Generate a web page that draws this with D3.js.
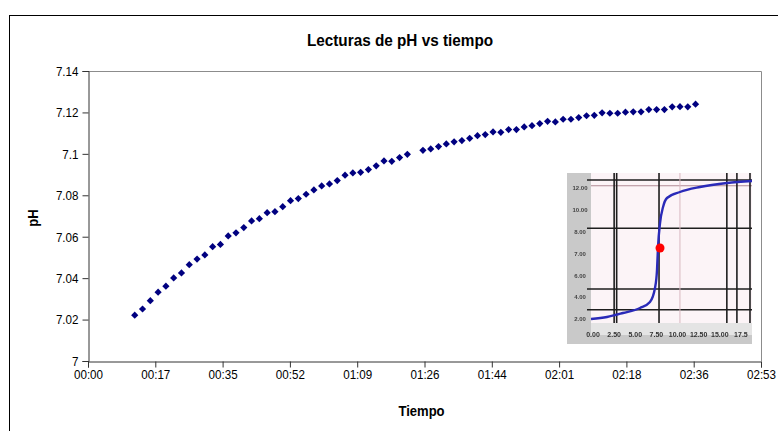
<!DOCTYPE html>
<html>
<head>
<meta charset="utf-8">
<script src="https://cdn.jsdelivr.net/npm/d3@7"></script>
<style>
    body { margin: 0; background: #fff; }
    text { font-family: "Liberation Sans", Arial, sans-serif; }
</style>
</head>
<body>
<svg id="chart" width="778" height="431"></svg>
<script>
// lecturas cada 2 minutos (falta la de 01:24)
var tiempos = [12, 14, 16, 18, 20, 22, 24, 26, 28, 30, 32, 34, 36, 38, 40, 42, 44, 46,
    48, 50, 52, 54, 56, 58, 60, 62, 64, 66, 68, 70, 72, 74, 76, 78, 80, 82,
    86, 88, 90, 92, 94, 96, 98, 100, 102, 104, 106, 108, 110, 112, 114, 116, 118, 120,
    122, 124, 126, 128, 130, 132, 134, 136, 138, 140, 142, 144, 146, 148, 150, 152, 154, 156];
var lecturasPH = [7.0221, 7.0251, 7.0291, 7.0332, 7.0361, 7.0401, 7.0425, 7.0465, 7.0492, 7.0512,
    7.0552, 7.0563, 7.0604, 7.0619, 7.0644, 7.0676, 7.0687, 7.0716, 7.0721, 7.0745,
    7.0774, 7.0784, 7.0805, 7.0826, 7.0845, 7.0855, 7.0871, 7.0897, 7.0908, 7.0911,
    7.0924, 7.0942, 7.0966, 7.0964, 7.0982, 7.0998,
    7.1017, 7.1024, 7.1035, 7.1048, 7.1058, 7.1064, 7.1075, 7.1088, 7.1093, 7.1106,
    7.1104, 7.1117, 7.1117, 7.1130, 7.1136, 7.1146, 7.1157, 7.1154, 7.1167, 7.1167,
    7.1175, 7.1184, 7.1186, 7.1198, 7.1196, 7.1196, 7.1201, 7.1203, 7.1203, 7.1214,
    7.1214, 7.1214, 7.1227, 7.1228, 7.1227, 7.1240];

var xTickLabels = ["00:00", "00:17", "00:35", "00:52", "01:09", "01:26", "01:44", "02:01", "02:18", "02:36", "02:53"];
var yTicks = [7, 7.02, 7.04, 7.06, 7.08, 7.1, 7.12, 7.14];
var yTickLabels = ["7", "7.02", "7.04", "7.06", "7.08", "7.1", "7.12", "7.14"];

// imagen pegada (curva de titulacion), en unidades propias
var curvaX = [0, 1.59, 3.18, 4.87, 5.86, 6.36, 6.56, 6.66, 6.86, 7.16, 7.55, 8.84, 10.83, 13.52, 16];
var curvaY = [0.32, 0.48, 0.8, 1.2, 1.68, 2.8, 4.24, 6.08, 8.0, 9.28, 10.0, 10.48, 10.88, 11.2, 11.36];
var puntoRojo = [6.86, 6.0];
var rejillaH = [1.06, 2.72, 7.58, 11.44];
var rejillaV = [2.3, 2.55, 6.76, 13.5, 14.5, 15.8];
var insetXLabels = ["0.00", "2.50", "5.00", "7.50", "10.00", "12.50", "15.00", "17.5"];
var insetYLabels = ["2.00", "4.00", "6.00", "7.00", "8.00", "10.00", "12.00"];

var svg = d3.select("#chart");
var mLeft = 88, mRight = 761, mTop = 71, mBottom = 361;

// texto estrecho, como el de la imagen original
function estrechar(sel, factor) {
    sel.each(function () {
        var w = this.getComputedTextLength();
        d3.select(this)
            .attr("textLength", w * factor)
            .attr("lengthAdjust", "spacingAndGlyphs");
    });
}

// borde del grafico
svg.append("rect")
    .attr("x", 9.5).attr("y", 15.5)
    .attr("width", 1000).attr("height", 1000)
    .attr("fill", "none")
    .attr("stroke", "#000")
    .attr("stroke-width", 1);

var x = d3.scaleLinear().domain([0, 172.8]).range([mLeft, mRight]);
var y = d3.scaleLinear().domain([7, 7.14]).range([mBottom, mTop]);

// marco del area de trazado
svg.append("path")
    .attr("d", "M" + mLeft + "," + (mTop + 0.5) + "H" + (mRight + 0.5) + "V" + mBottom)
    .attr("fill", "none")
    .attr("stroke", "#8c8c8c");

var xAxis = d3.axisBottom(x)
    .tickValues(d3.range(0, 11).map(function (i) { return i * 17.28; }))
    .tickSize(6)
    .tickPadding(2)
    .tickFormat(function (d, i) { return xTickLabels[i]; });
var gx = svg.append("g")
    .attr("transform", "translate(0," + (mBottom + 0.5) + ")")
    .call(xAxis);

var yAxis = d3.axisLeft(y)
    .tickValues(yTicks)
    .tickSize(6)
    .tickPadding(4)
    .tickFormat(function (d, i) { return yTickLabels[i]; });
var gy = svg.append("g")
    .attr("transform", "translate(" + (mLeft + 0.5) + ",0)")
    .call(yAxis);

[gx, gy].forEach(function (g) {
    g.select(".domain").attr("stroke", "#333");
    g.selectAll(".tick line").attr("stroke", "#333");
    g.selectAll(".tick text")
        .attr("fill", "#000")
        .style("font-size", "13.5px")
        .call(estrechar, 0.86);
});

// titulo y ejes
svg.append("text")
    .attr("x", 400).attr("y", 46)
    .attr("text-anchor", "middle")
    .style("font-size", "17px")
    .style("font-weight", "bold")
    .text("Lecturas de pH vs tiempo")
    .call(estrechar, 0.9);
svg.append("text")
    .attr("x", (mLeft + mRight) / 2 - 3).attr("y", 416)
    .attr("text-anchor", "middle")
    .style("font-size", "14.5px")
    .style("font-weight", "bold")
    .text("Tiempo")
    .call(estrechar, 0.9);
svg.append("text")
    .attr("transform", "translate(38," + ((mTop + mBottom) / 2 + 2) + ") rotate(-90)")
    .attr("text-anchor", "middle")
    .style("font-size", "14.5px")
    .style("font-weight", "bold")
    .text("pH")
    .call(estrechar, 0.9);

// imagen insertada
var inset = svg.append("g").attr("id", "inset");
var ix = d3.scaleLinear().domain([0, 16]).range([591, 752]);
var iy = d3.scaleLinear().domain([0, 12]).range([323, 173]);

var defs = svg.append("defs");
defs.append("filter").attr("id", "blur")
    .append("feGaussianBlur").attr("stdDeviation", 0.6);

inset.append("rect")
    .attr("x", 567).attr("y", 173).attr("width", 185).attr("height", 171)
    .attr("fill", "#c9c9c9");
inset.append("rect")
    .attr("x", ix(0)).attr("y", iy(12)).attr("width", ix(16) - ix(0)).attr("height", iy(0) - iy(12))
    .attr("fill", "#fcf4f7");
inset.append("rect")
    .attr("x", ix(0)).attr("y", iy(0)).attr("width", ix(16) - ix(0)).attr("height", 12)
    .attr("fill", "#e4e4e4");

inset.selectAll("line.gh")
    .data(rejillaH)
    .enter()
    .append("line")
    .attr("class", "gh")
    .attr("x1", ix(0) - 4).attr("x2", ix(16))
    .attr("y1", function (d) { return iy(d); })
    .attr("y2", function (d) { return iy(d); })
    .attr("stroke", "#1e1e1e")
    .attr("stroke-width", 1.6);
inset.append("line")
    .attr("x1", ix(0)).attr("x2", ix(16))
    .attr("y1", iy(10.98)).attr("y2", iy(10.98))
    .attr("stroke", "#b08a94")
    .attr("stroke-width", 1);
inset.selectAll("line.gv")
    .data(rejillaV)
    .enter()
    .append("line")
    .attr("class", "gv")
    .attr("y1", iy(12)).attr("y2", iy(0))
    .attr("x1", function (d) { return ix(d); })
    .attr("x2", function (d) { return ix(d); })
    .attr("stroke", "#1e1e1e")
    .attr("stroke-width", 1.6);
inset.append("line")
    .attr("y1", iy(12)).attr("y2", iy(0))
    .attr("x1", ix(8.84)).attr("x2", ix(8.84))
    .attr("stroke", "#d8b8c0")
    .attr("stroke-width", 1);

inset.append("path")
    .datum(curvaX.map(function (d, i) { return [d, curvaY[i]]; }))
    .attr("d", d3.line()
        .x(function (d) { return ix(d[0]); })
        .y(function (d) { return iy(d[1]); })
        .curve(d3.curveMonotoneX))
    .attr("fill", "none")
    .attr("stroke", "#2a2ab8")
    .attr("stroke-width", 2.4);

inset.selectAll("text.xl")
    .data(insetXLabels)
    .enter()
    .append("text")
    .attr("class", "xl")
    .attr("x", function (d, i) { return ix(i * 2.1) + 2; })
    .attr("y", 337)
    .attr("text-anchor", "middle")
    .attr("filter", "url(#blur)")
    .style("font-size", "7px")
    .style("font-weight", "bold")
    .attr("fill", "#333")
    .text(function (d) { return d; });
inset.selectAll("text.yl")
    .data(insetYLabels)
    .enter()
    .append("text")
    .attr("class", "yl")
    .attr("x", 580)
    .attr("y", function (d, i) { return iy(0.3 + i * 1.75) + 2; })
    .attr("text-anchor", "middle")
    .attr("filter", "url(#blur)")
    .style("font-size", "6px")
    .style("font-weight", "bold")
    .attr("fill", "#444")
    .text(function (d) { return d; });

inset.append("circle")
    .attr("cx", ix(puntoRojo[0]))
    .attr("cy", iy(puntoRojo[1]))
    .attr("r", 4.5)
    .attr("fill", "#ff0000");

// puntos de la serie
var diamante = d3.symbol().type(d3.symbolSquare).size(26);
svg.append("g")
    .attr("id", "serie")
    .selectAll("path")
    .data(tiempos)
    .enter()
    .append("path")
    .attr("d", diamante)
    .attr("transform", function (d, i) {
        return "translate(" + x(d) + "," + y(lecturasPH[i]) + ") rotate(45)";
    })
    .attr("fill", "#000080");
</script>
</body>
</html>
